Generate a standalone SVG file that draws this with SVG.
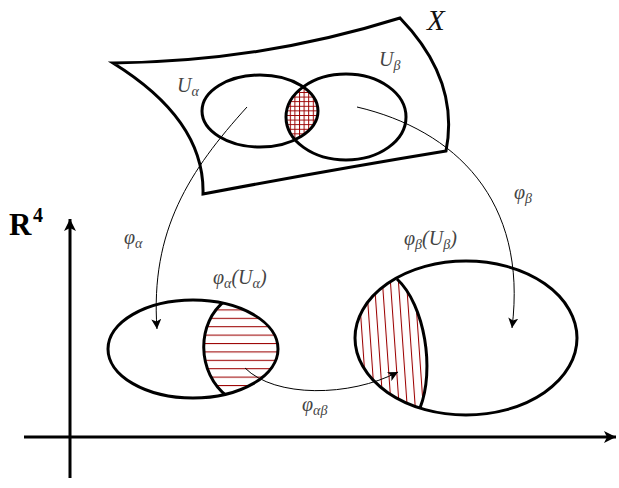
<svg xmlns="http://www.w3.org/2000/svg" width="619" height="488" viewBox="0 0 619 488">
<style>
.thick{fill:none;stroke:#000;stroke-width:3}
.thin{fill:none;stroke:#000;stroke-width:1}
.lbl{font-family:"Liberation Serif","DejaVu Serif",serif;font-style:italic;fill:#444}
</style>
<defs>
<marker id="ah" markerUnits="userSpaceOnUse" markerWidth="12" markerHeight="10" refX="10" refY="5" orient="auto">
<path d="M0,0 L10,5 L0,10 L2.5,5 Z" fill="#000"/>
</marker>
<marker id="axh" markerUnits="userSpaceOnUse" markerWidth="14" markerHeight="12" refX="12" refY="6" orient="auto">
<path d="M0,0 L12,6 L0,12 L3,6 Z" fill="#000"/>
</marker>
<clipPath id="cUa"><ellipse cx="260" cy="111" rx="58" ry="36"/></clipPath>
<clipPath id="cUb"><ellipse cx="346" cy="117" rx="60" ry="43"/></clipPath>
<clipPath id="cLa"><ellipse cx="193" cy="349" rx="85" ry="49"/></clipPath>
<clipPath id="cLr"><path d="M226,300 C196,322 196,373 228,397 L300,400 L300,295 Z"/></clipPath>
<clipPath id="cRe"><ellipse cx="466" cy="338" rx="111" ry="77"/></clipPath>
<clipPath id="cRl"><path d="M397,279 C425,305 435,370 420,408 L340,420 L340,260 Z"/></clipPath>
<pattern id="grid" patternUnits="userSpaceOnUse" width="4.6" height="4.6">
<path d="M0,0.5 H4.6 M0.5,0 V4.6" stroke="#9b0000" stroke-width="1"/>
</pattern>
<pattern id="hor" patternUnits="userSpaceOnUse" width="10" height="8.4" y="301">
<path d="M0,0.5 H10" stroke="#9b0000" stroke-width="1.1"/>
</pattern>
<pattern id="ver" patternUnits="userSpaceOnUse" width="8" height="10" x="362" patternTransform="rotate(-4 400 340)">
<path d="M0.5,0 V10" stroke="#9b0000" stroke-width="1.1"/>
</pattern>
</defs>

<g id="axes">
<line class="thick" x1="70" y1="478" x2="70" y2="219" stroke-width="2.5" marker-end="url(#axh)"/>
<line class="thick" x1="24" y1="437" x2="616" y2="437" stroke-width="2.5" marker-end="url(#axh)"/>
<text x="9" y="235" font-family="Liberation Serif,serif" font-weight="bold" font-size="31">R</text>
<text x="33" y="222" font-family="Liberation Serif,serif" font-weight="bold" font-size="20">4</text>
</g>

<g id="surface-X">
<path class="thick" d="M113,63 Q260,62 400,18 Q460,80 446,151 Q330,170 203,194 Q205,120 113,63 Z" stroke-linejoin="miter"/>
<text class="lbl" x="427" y="30" font-size="29" style="fill:#111">X</text>
</g>

<g id="intersection-top">
<g clip-path="url(#cUa)"><rect x="280" y="70" width="50" height="80" fill="url(#grid)" clip-path="url(#cUb)"/></g>
</g>

<g id="U-alpha">
<ellipse class="thick" cx="260" cy="111" rx="58" ry="36"/>
<text class="lbl" x="177" y="92" font-size="20">U<tspan font-size="14" dy="4">α</tspan></text>
</g>

<g id="U-beta">
<ellipse class="thick" cx="346" cy="117" rx="60" ry="43"/>
<text class="lbl" x="379" y="66" font-size="20">U<tspan font-size="14" dy="4">β</tspan></text>
</g>

<g id="phiA-Ua">
<g clip-path="url(#cLa)"><rect x="195" y="295" width="90" height="110" fill="url(#hor)" clip-path="url(#cLr)"/></g>
<ellipse class="thick" cx="193" cy="349" rx="85" ry="49"/>
<path class="thick" d="M226,300 C196,322 196,373 228,397" clip-path="url(#cLa)"/>
<text class="lbl" x="213" y="284" font-size="20">φ<tspan font-size="14" dy="4">α</tspan><tspan dy="-4">(U</tspan><tspan font-size="14" dy="4">α</tspan><tspan dy="-4">)</tspan></text>
</g>

<g id="phiB-Ub">
<g clip-path="url(#cRe)"><rect x="350" y="260" width="90" height="160" fill="url(#ver)" clip-path="url(#cRl)"/></g>
<ellipse class="thick" cx="466" cy="338" rx="111" ry="77"/>
<path class="thick" d="M397,279 C425,305 435,370 420,408" clip-path="url(#cRe)"/>
<text class="lbl" x="404" y="245" font-size="20">φ<tspan font-size="14" dy="4">β</tspan><tspan dy="-4">(U</tspan><tspan font-size="14" dy="4">β</tspan><tspan dy="-4">)</tspan></text>
</g>

<g id="connectors">
<path class="thin" d="M247,107 C190,170 150,230 157,329" marker-end="url(#ah)"/>
<path class="thin" d="M357,107 C455,130 528,200 512,328" marker-end="url(#ah)"/>
<path class="thin" d="M245,368 C275,398 350,397 398,372" marker-end="url(#ah)"/>
<text class="lbl" x="124" y="244" font-size="20">φ<tspan font-size="14" dy="4">α</tspan></text>
<text class="lbl" x="514" y="199" font-size="20">φ<tspan font-size="14" dy="4">β</tspan></text>
<text class="lbl" x="302" y="411" font-size="20">φ<tspan font-size="14" dy="4">αβ</tspan></text>
</g>
</svg>
